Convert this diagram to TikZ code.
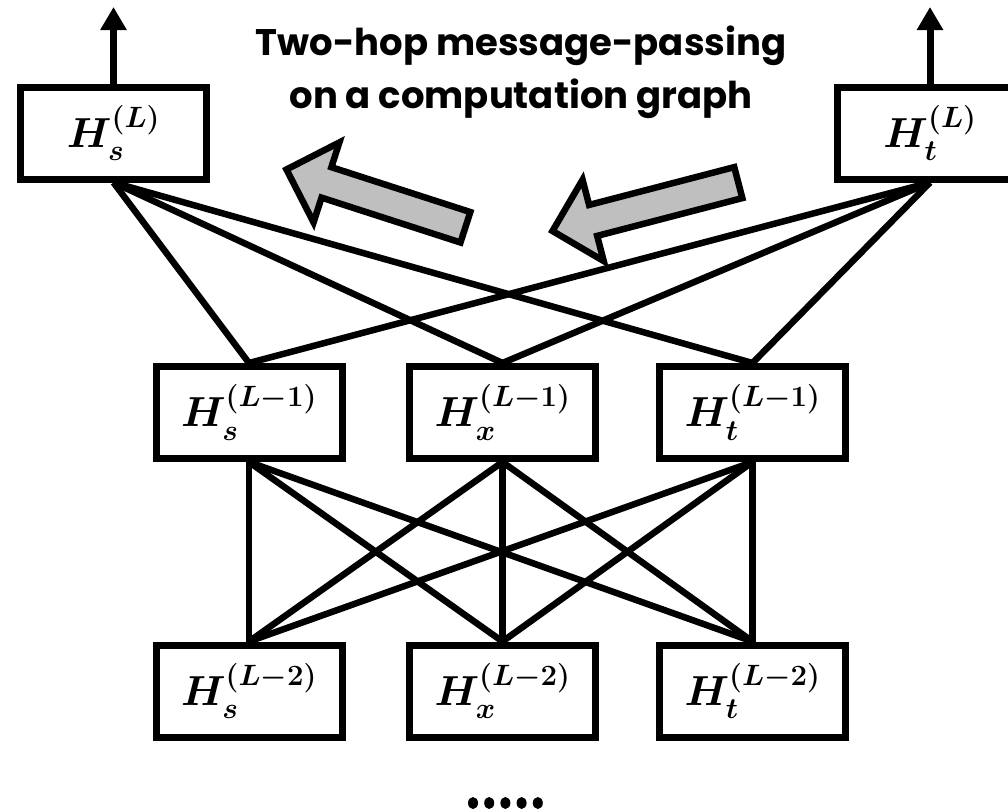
\RequirePackage{fix-cm}
\documentclass[tikz,border=0pt]{standalone}
\usepackage{amsmath,bm}
\usepackage{fontspec}
\newfontfamily\titlefont{Poppins}
\usetikzlibrary{positioning,arrows.meta}
\newcommand{\hstate}[2]{$\bm{H}^{\raise5pt\hbox{$\scriptstyle\bm{(#2)}$}}_{\lower3pt\hbox{$\scriptstyle\bm{#1}$}}$}
\tikzset{
  layer/.style={draw, line width=7pt, fill=white, minimum width=186pt, minimum height=92pt, inner sep=0pt, font=\fontsize{42}{50}\selectfont},
  link/.style={line width=6.5pt},
  flow/.style={draw, line width=6.5pt, fill=gray!50, line join=miter},
  readout/.style={line width=7pt, -{Triangle[width=25pt,length=23pt]}},
  heading/.style={anchor=base, font=\titlefont\bfseries\fontsize{37}{44}\selectfont}
}

\begin{document}
\begin{tikzpicture}[x=1pt,y=-1pt]
\clip (0,0) rectangle (1008,811);

\node[heading] (title1) at (521,55) {Two-hop message-passing};
\node[heading] (title2) at (521,108) {on a computation graph};

\node[layer] (hsL) at (113.5,133) {\hstate{s}{L}};
\node[layer] (htL) at (930,133) {\hstate{t}{L}};

\node[layer] (hs1) at (249,412.5) {\hstate{s}{L-1}};
\node[layer] (hx1) at (502.5,412.5) {\hstate{x}{L-1}};
\node[layer] (ht1) at (752.5,412.5) {\hstate{t}{L-1}};

\node[layer] (hs2) at (249,691) {\hstate{s}{L-2}};
\node[layer] (hx2) at (502.5,691) {\hstate{x}{L-2}};
\node[layer] (ht2) at (752.5,691) {\hstate{t}{L-2}};

\coordinate (outS) at (113.5,7);
\coordinate (outT) at (930,7);
\draw[readout] (hsL.north) -- (outS);
\draw[readout] (htL.north) -- (outT);

\foreach \a in {hsL,htL}
  \foreach \b in {hs1,hx1,ht1}
    \draw[link] (\a.south) -- (\b.north);
\foreach \a in {hs1,hx1,ht1}
  \foreach \b in {hs2,hx2,ht2}
    \draw[link] (\a.south) -- (\b.north);

% message direction
\begin{scope}[shift={(286.5,169.5)}, rotate=-17.9]
\draw[flow] (0,0) -- (42,-42) -- (42,-16) -- (188,-16) -- (188,16) -- (42,16) -- (42,42) -- cycle;
\end{scope}
\begin{scope}[shift={(552.5,231)}, rotate=14.6]
\draw[flow] (0,0) -- (42,-42) -- (42,-16) -- (192,-16) -- (192,16) -- (42,16) -- (42,42) -- cycle;
\end{scope}

\foreach \i in {0,...,4}
  \fill (473+16.2*\i,803) ellipse [x radius=5pt, y radius=6pt];
\end{tikzpicture}
\end{document}
